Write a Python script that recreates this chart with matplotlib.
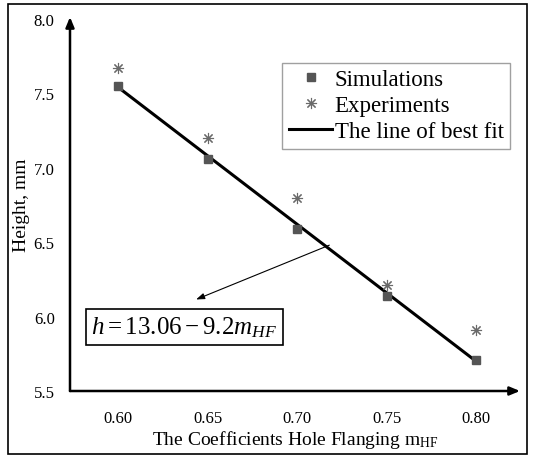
import matplotlib
matplotlib.use("Agg")
import matplotlib.pyplot as plt
from matplotlib.patches import Rectangle

plt.rcParams['font.family'] = ['Liberation Serif', 'DejaVu Serif']
plt.rcParams['mathtext.fontset'] = 'custom'
plt.rcParams['mathtext.rm'] = 'Liberation Serif'
plt.rcParams['mathtext.it'] = 'Liberation Serif:italic'

m_hf = [0.60, 0.65, 0.70, 0.75, 0.80]
simulations = [7.55, 7.06, 6.59, 6.14, 5.71]
experiments = [7.67, 7.20, 6.80, 6.21, 5.91]
fit_intercept = 13.06
fit_slope = -9.2
x_ticks = [0.60, 0.65, 0.70, 0.75, 0.80]
x_ticklabels = ["0.60", "0.65", "0.70", "0.75", "0.80"]
y_ticks = [5.5, 6.0, 6.5, 7.0, 7.5, 8.0]
y_ticklabels = ["5.5", "6.0", "6.5", "7.0", "7.5", "8.0"]

fig = plt.figure(figsize=(5.33, 4.60), dpi=100)
fig.patches.append(Rectangle((8/533, 5/460), 519/533, 450/460, transform=fig.transFigure,
                             fill=False, edgecolor='black', linewidth=1.2))
ax = fig.add_axes([70/533, 68/460, 450/533, 374/460])
ax.set_xlim(0.573, 0.8246)
ax.set_ylim(5.5, 8.013)
for s in ax.spines.values():
    s.set_visible(False)

# axis arrows
ax.annotate('', xy=(1.0, 0), xytext=(0, 0), xycoords='axes fraction',
            arrowprops=dict(arrowstyle='-|>,head_length=0.6,head_width=0.25', color='black', lw=1.8,
                            shrinkA=0, shrinkB=0))
ax.annotate('', xy=(0, 1.0), xytext=(0, 0), xycoords='axes fraction',
            arrowprops=dict(arrowstyle='-|>,head_length=0.6,head_width=0.25', color='black', lw=1.8,
                            shrinkA=0, shrinkB=0))

fit_x = [m_hf[0], m_hf[-1]]
fit_y = [fit_intercept + fit_slope * v for v in fit_x]

ax.plot(m_hf, simulations, linestyle='none', marker='s', markersize=5.5, color='#555555',
        label='Simulations', zorder=3)
ax.plot(m_hf, experiments, linestyle='none', marker=(8, 2, 0), markersize=8, color='#6a6a6a',
        markeredgewidth=0.8, label='Experiments', zorder=3)
ax.plot(fit_x, fit_y, color='black', linewidth=2.2, label='The line of best fit', zorder=2)

ax.set_xticks(x_ticks)
ax.set_xticklabels(x_ticklabels)
ax.set_yticks(y_ticks)
ax.set_yticklabels(y_ticklabels)
ax.tick_params(length=0, labelsize=12, pad=11)
ax.tick_params(axis='x', pad=14)

ax.set_xlabel(r'The Coefficients Hole Flanging m$_{\mathrm{HF}}$', fontsize=14, labelpad=1)
ax.set_ylabel('Height, mm', fontsize=14, labelpad=3)

leg = ax.legend(loc='upper right', bbox_to_anchor=(0.978, 0.878), fontsize=16.5, frameon=True,
                fancybox=False, edgecolor='#888888', borderpad=0.28, handlelength=1.9,
                handletextpad=0.1, labelspacing=0.22, borderaxespad=0)
leg.get_frame().set_linewidth(1.0)

ax.text(0.637, 5.93, r'$h = 13.06 - 9.2m_{HF}$', fontsize=18, ha='center', va='center',
        bbox=dict(boxstyle='square,pad=0.22', fc='white', ec='black', lw=1.2), zorder=4)
ax.annotate('', xy=(0.6435, 6.115), xytext=(0.718, 6.48),
            arrowprops=dict(arrowstyle='-|>,head_length=0.5,head_width=0.18', color='black', lw=0.8,
                            shrinkA=0, shrinkB=0))

fig.savefig('out.png', dpi=100)
